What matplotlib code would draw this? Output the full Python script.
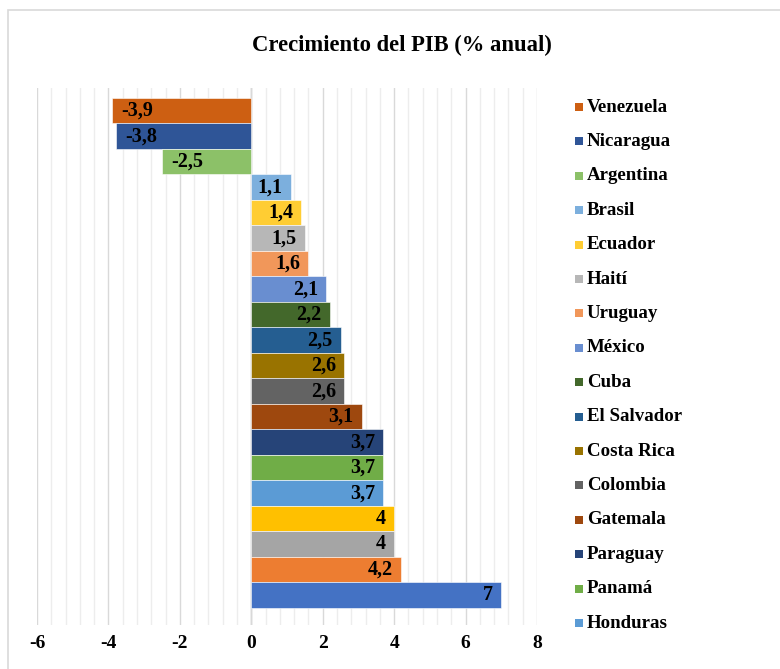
import matplotlib
matplotlib.use("Agg")
import matplotlib.pyplot as plt
from matplotlib.patches import Rectangle
from matplotlib.ticker import MultipleLocator

# Data (top to bottom as displayed)
countries = ["Venezuela", "Nicaragua", "Argentina", "Brasil", "Ecuador", "Haití",
             "Uruguay", "México", "Cuba", "El Salvador", "Costa Rica", "Colombia",
             "Gatemala", "Paraguay", "Panamá", "Honduras", "", "", "", ""]
values = [-3.9, -3.8, -2.5, 1.1, 1.4, 1.5, 1.6, 2.1, 2.2, 2.5, 2.6, 2.6,
          3.1, 3.7, 3.7, 3.7, 4, 4, 4.2, 7]
colors = ["#CD5F12", "#2F5597", "#8CC168", "#7CAFDD", "#FFCD33", "#B7B7B7",
          "#F1975A", "#698ED0", "#43682B", "#255E91", "#997300", "#636363",
          "#9E480E", "#264478", "#70AD47", "#5B9BD5", "#FFC000", "#A5A5A5",
          "#ED7D31", "#4472C4"]
title = "Crecimiento del PIB (% anual)"
xticks = [-6, -4, -2, 0, 2, 4, 6, 8]

FONT = "Liberation Serif"
W, H = 780, 669
fig = plt.figure(figsize=(W / 100, H / 100), dpi=100)

def fx(px):
    return px / W

def fy(py):
    return 1 - py / H

# outer chart frame
fig.add_artist(Rectangle((fx(8), -0.1), 1.2, fy(10) + 0.1, transform=fig.transFigure,
                         fill=False, edgecolor="#D9D9D9", linewidth=1.2))

ax = fig.add_axes([fx(37), fy(625), fx(537) - fx(37), fy(88) - fy(625)])
n = len(values)
ypos = [n - 1 - i for i in range(n)]
ax.barh(ypos, values, height=1.0, color=colors, edgecolor="white", linewidth=0.4, zorder=3)

ax.set_xlim(-6, 8)
ax.set_ylim(-1.17, n - 0.5 + 0.39)
ax.xaxis.set_major_locator(MultipleLocator(2))
ax.xaxis.set_minor_locator(MultipleLocator(0.4))
ax.grid(axis="x", which="major", color="#D9D9D9", linewidth=1.0, zorder=0)
ax.grid(axis="x", which="minor", color="#EDEDED", linewidth=1.0, zorder=0)
ax.axvline(0, color="#BFBFBF", linewidth=1.0, zorder=1)
ax.set_yticks([])
for s in ax.spines.values():
    s.set_visible(False)
ax.set_xticks(xticks)
ax.set_xticklabels([str(t) for t in xticks], fontfamily=FONT, fontweight="bold", fontsize=14)
ax.tick_params(axis="x", which="both", length=0, pad=7)

for y, v in zip(ypos, values):
    lab = f"{v:g}".replace(".", ",")
    if v >= 0:
        ax.annotate(lab, (v, y), xytext=(-6, 0), textcoords="offset points",
                    ha="right", va="center", fontfamily=FONT, fontweight="bold",
                    fontsize=14.5, color="black", zorder=4)
    else:
        ax.annotate(lab, (v, y), xytext=(7, 0), textcoords="offset points",
                    ha="left", va="center", fontfamily=FONT, fontweight="bold",
                    fontsize=14.5, color="black", zorder=4)

fig.text(fx(402), fy(45), title, ha="center", va="center", fontfamily=FONT,
         fontweight="bold", fontsize=16.3)

# legend (only named series shown, as in the original)
y0, dy = 107, 34.4
k = 0
for name, c in zip(countries, colors):
    if not name:
        continue
    yc = y0 + dy * k
    fig.add_artist(Rectangle((fx(575), fy(yc + 4)), fx(8), 8 / H, transform=fig.transFigure,
                             facecolor=c, edgecolor="none"))
    fig.text(fx(587), fy(yc), name, ha="left", va="center", fontfamily=FONT,
             fontweight="bold", fontsize=13.6)
    k += 1

fig.savefig("out.png", dpi=100, facecolor="white")
